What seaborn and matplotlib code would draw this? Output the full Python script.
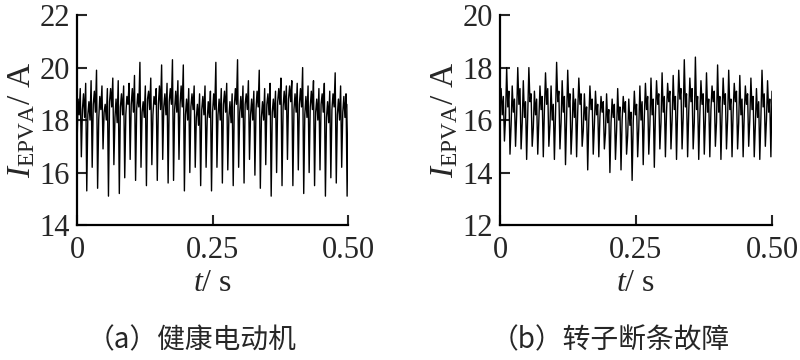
import numpy as np
import matplotlib
matplotlib.use("Agg")
import matplotlib.pyplot as plt
import seaborn as sns

i_healthy = [
    17.0, 18.8, 18.2, 19.2, 16.6, 18.4, 19.0, 18.1, 19.4, 15.3,
    18.2, 18.7, 18.0, 19.5, 16.2, 18.6, 19.1, 18.3, 19.9, 15.4,
    18.0, 18.9, 18.4, 19.3, 16.9, 18.3, 18.6, 18.0, 19.2, 15.1,
    18.7, 19.2, 18.5, 19.6, 16.3, 18.1, 18.8, 17.9, 19.5, 15.2,
    18.5, 19.0, 18.2, 19.3, 15.8, 18.2, 18.9, 18.6, 19.4, 16.5,
    18.6, 19.2, 18.3, 19.7, 15.7, 18.4, 19.0, 18.5, 20.2, 16.2,
    18.3, 18.7, 18.1, 19.3, 15.5, 18.8, 19.1, 18.4, 19.6, 16.3,
    18.2, 18.9, 18.6, 19.2, 15.7, 18.6, 19.3, 18.4, 20.1, 16.5,
    18.5, 19.0, 18.2, 19.4, 15.6, 18.7, 19.2, 18.6, 20.3, 15.7,
    18.4, 19.1, 18.3, 19.5, 16.5, 18.6, 19.3, 18.5, 20.1, 15.3,
    18.2, 18.8, 18.0, 19.2, 16.0, 18.5, 19.0, 18.4, 19.3, 16.2,
    18.1, 18.6, 17.8, 19.0, 15.5, 18.4, 18.9, 18.2, 19.3, 16.2,
    18.0, 18.7, 18.1, 19.1, 15.3, 18.3, 19.0, 18.4, 20.2, 16.2,
    18.2, 18.8, 18.0, 19.2, 15.6, 18.6, 19.1, 18.3, 19.4, 16.1,
    18.1, 18.7, 17.9, 19.0, 15.5, 18.5, 19.2, 18.6, 20.3, 16.2,
    18.3, 18.9, 18.1, 19.3, 15.6, 18.6, 19.0, 18.4, 19.5, 16.5,
    18.2, 18.8, 18.0, 19.1, 15.9, 18.4, 19.1, 18.5, 19.9, 15.4,
    18.1, 18.7, 18.0, 19.2, 16.3, 18.6, 19.0, 18.2, 19.4, 15.1,
    18.3, 18.8, 18.1, 19.1, 16.0, 18.7, 19.2, 18.6, 19.6, 15.5,
    18.5, 19.1, 18.4, 19.3, 16.5, 18.8, 19.3, 18.7, 19.5, 15.5,
    18.4, 19.0, 18.3, 19.4, 16.1, 18.6, 19.2, 18.5, 20.0, 15.2,
    18.2, 18.9, 18.1, 19.3, 16.0, 18.5, 19.1, 18.4, 19.5, 15.5,
    18.3, 18.8, 18.0, 19.2, 16.1, 18.6, 19.0, 18.3, 19.4, 15.1,
    18.1, 18.7, 17.9, 19.1, 15.8, 18.4, 19.0, 18.5, 19.8, 15.6,
    18.2, 18.8, 18.0, 19.3, 16.2, 18.3, 18.9, 18.1, 19.0, 15.1,
    18.6,
]

i_fault = [
    16.6, 17.2, 16.2, 16.9, 15.2, 16.1, 18.0, 16.5, 17.1, 14.7,
    15.8, 17.3, 16.3, 16.8, 15.0, 16.2, 18.0, 16.6, 17.2, 14.9,
    15.9, 17.5, 16.1, 16.7, 14.5, 16.3, 18.0, 16.7, 17.0, 15.0,
    15.7, 17.1, 16.2, 16.8, 14.7, 16.0, 17.3, 16.4, 16.9, 14.6,
    16.4, 17.8, 16.6, 17.2, 15.0, 15.8, 17.3, 16.0, 16.6, 14.5,
    16.2, 18.2, 16.7, 17.1, 14.9, 15.9, 17.5, 16.3, 16.9, 14.3,
    16.1, 17.9, 16.5, 17.0, 14.7, 15.7, 17.2, 16.1, 16.8, 14.6,
    16.3, 17.6, 16.6, 17.0, 15.0, 15.6, 17.0, 16.0, 16.5, 14.1,
    16.0, 17.3, 16.4, 16.8, 14.7, 15.8, 17.1, 16.2, 16.6, 14.6,
    16.1, 16.9, 16.3, 16.7, 14.9, 15.5, 17.0, 15.9, 16.4, 14.0,
    15.9, 16.8, 16.1, 16.6, 14.5, 15.6, 17.2, 16.0, 16.5, 14.1,
    16.0, 16.9, 16.3, 16.7, 14.7, 15.4, 16.8, 15.8, 16.3, 13.7,
    15.9, 17.1, 16.2, 16.6, 14.6, 15.7, 17.3, 16.0, 16.7, 14.3,
    16.1, 17.4, 16.4, 16.9, 14.7, 15.8, 17.6, 16.2, 16.8, 14.2,
    16.2, 17.5, 16.6, 17.0, 14.9, 15.9, 17.8, 16.3, 16.9, 14.6,
    16.3, 17.4, 16.7, 17.1, 14.9, 16.0, 17.7, 16.4, 16.9, 14.5,
    16.4, 17.9, 16.8, 17.2, 14.9, 16.1, 18.3, 16.5, 17.0, 14.6,
    16.3, 17.6, 16.7, 17.2, 14.9, 15.9, 18.4, 16.4, 16.9, 14.5,
    16.2, 17.5, 16.6, 17.0, 14.7, 16.0, 17.8, 16.3, 16.8, 14.6,
    16.4, 17.3, 16.7, 17.1, 15.0, 15.9, 18.1, 16.3, 16.9, 14.5,
    16.2, 17.6, 16.6, 17.0, 14.9, 16.0, 17.9, 16.4, 16.8, 14.6,
    16.3, 17.4, 16.7, 17.1, 14.9, 15.9, 17.7, 16.2, 16.8, 14.6,
    16.2, 17.3, 16.6, 17.0, 15.0, 16.0, 17.6, 16.4, 16.9, 14.6,
    15.8, 17.2, 16.1, 16.7, 14.5, 16.1, 17.9, 16.5, 17.0, 15.0,
    16.0, 17.5, 16.3, 16.8, 14.6,
    17.1,
]

t_end = 0.5
x_ticks = [0, 0.25, 0.5]
x_ticklabels = ["0", "0.25", "0.50"]
y_ticks_a = [14, 16, 18, 20, 22]
y_ticks_b = [12, 14, 16, 18, 20]
captions = ["（a）健康电动机", "（b）转子断条故障"]

sns.set_style("ticks")
plt.rcParams["font.family"] = ["Liberation Serif", "DejaVu Serif"]
plt.rcParams["mathtext.fontset"] = "custom"
plt.rcParams["mathtext.rm"] = "Liberation Serif"
plt.rcParams["mathtext.it"] = "Liberation Serif:italic"

fig = plt.figure(figsize=(8, 3.6), dpi=100)
ax_a = fig.add_axes([0.09625, 0.375, 0.339, 0.583])
ax_b = fig.add_axes([0.625, 0.375, 0.340, 0.583])

panels = [
    (ax_a, i_healthy, y_ticks_a),
    (ax_b, i_fault, y_ticks_b),
]

for ax, vals, yt in panels:
    t = np.linspace(0, t_end, len(vals))
    sns.lineplot(x=t, y=vals, ax=ax, color="black", linewidth=1.0)
    ax.set_xlim(0, t_end)
    ax.set_ylim(yt[0], yt[-1])
    ax.set_xticks(x_ticks)
    ax.set_xticklabels(x_ticklabels)
    ax.set_yticks(yt)
    ax.tick_params(direction="in", length=7, width=1.5, labelsize=22)
    ax.tick_params(axis="x", pad=8)
    ax.tick_params(axis="y", pad=5)
    ax.spines["top"].set_visible(False)
    ax.spines["right"].set_visible(False)
    for s in ("left", "bottom"):
        ax.spines[s].set_linewidth(1.6)
        ax.spines[s].set_color("black")
    ax.set_xlabel("$t$/ s", fontsize=23, labelpad=3)
    ax.set_ylabel(r"$I_{\mathrm{EPVA}}$/ A", fontsize=24, labelpad=2)

fig.text(0.239, 0.056, captions[0], ha="center", va="center", fontsize=20,
         family=["Noto Sans CJK SC", "DejaVu Sans"])
fig.text(0.7625, 0.056, captions[1], ha="center", va="center", fontsize=20,
         family=["Noto Sans CJK SC", "DejaVu Sans"])

fig.savefig("out.png", dpi=100)
